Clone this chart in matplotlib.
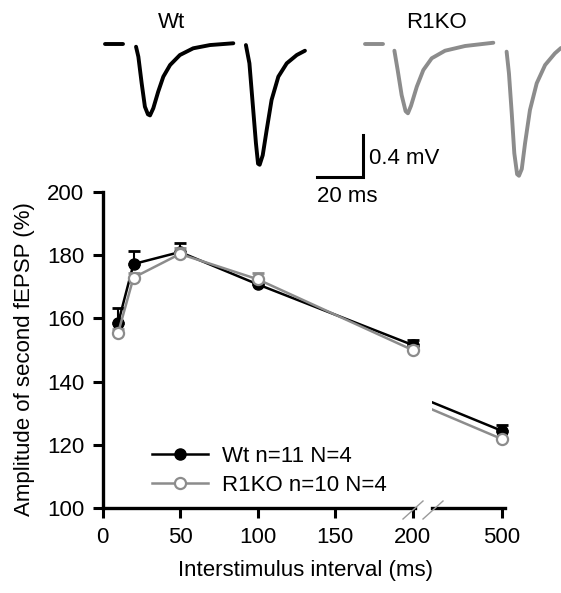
import numpy as np
import matplotlib
matplotlib.use("Agg")
import matplotlib.pyplot as plt
from matplotlib.lines import Line2D

plt.rcParams['font.family'] = ['Liberation Sans', 'DejaVu Sans']

# ---------------- data ----------------
intervals = [10, 20, 50, 100, 200, 500]          # ms
wt_mean = [158.4, 177.2, 181.0, 170.8, 151.6, 124.4]
wt_err = [4.8, 4.1, 3.0, 1.5, 1.5, 2.0]
ko_mean = [155.3, 172.9, 180.4, 172.4, 150.0, 121.8]
ko_err = [1.5, 1.5, 2.0, 2.1, 1.2, 1.2]

xticks_left = [0, 50, 100, 150, 200]
xticks_right = [500]
yticks = [100, 120, 140, 160, 180, 200]

wt_label = "Wt n=11 N=4"
ko_label = "R1KO n=10 N=4"

# example traces (time in ms, voltage in mV), each split in segments
wt_trace = [
    ([0.0, 7.7], [0.0, 0.0]),
    ([13.3, 14.3, 15.7, 17.1, 18.4, 19.3, 20.7, 22.8, 25.0, 27.9, 32.1, 37.8, 45.0, 55.0],
     [-0.026, -0.121, -0.371, -0.597, -0.670, -0.680, -0.612, -0.454, -0.311, -0.200, -0.105, -0.041, -0.010, 0.007]),
    ([60.4, 61.9, 63.3, 64.7, 65.6, 66.3, 67.6, 69.3, 71.4, 74.3, 77.9, 82.2, 85.7],
     [-0.010, -0.184, -0.565, -0.946, -1.140, -1.150, -1.060, -0.819, -0.533, -0.311, -0.184, -0.105, -0.064]),
]
ko_trace = [
    ([0.0, 7.7], [0.0, 0.0]),
    ([12.6, 14.0, 15.7, 17.4, 18.4, 19.7, 22.2, 25.0, 28.6, 34.3, 42.9, 55.0],
     [-0.064, -0.248, -0.486, -0.640, -0.660, -0.590, -0.407, -0.248, -0.136, -0.064, -0.019, 0.012]),
    ([60.7, 61.7, 62.9, 64.0, 65.2, 66.0, 67.2, 68.6, 70.7, 73.6, 77.2, 81.4, 84.0],
     [-0.073, -0.279, -0.660, -1.041, -1.240, -1.255, -1.190, -0.946, -0.629, -0.374, -0.200, -0.089, -0.038]),
]
scale_ms = 20
scale_mv = 0.4

# ---------------- figure ----------------
W, H = 561, 593
fig = plt.figure(figsize=(W / 100, H / 100), dpi=100)

BLACK = '#000000'
GRAY = '#8c8c8c'
FS = 16

def fx(px):
    return px / W

def fy(py):
    return 1 - py / H

# main axes geometry (pixels)
x0_px, px_per_ms = 102.5, 1.55
y_top, y_bot = 192, 508
left_xlim = (0, 206)
ax1 = fig.add_axes([fx(x0_px), fy(y_bot), (left_xlim[1] - left_xlim[0]) * px_per_ms / W,
                    (y_bot - y_top) / H])
r_px0, r_scale = 432, 0.70
right_xlim = (400, 512)
ax2 = fig.add_axes([fx(r_px0), fy(y_bot), (right_xlim[1] - right_xlim[0]) * r_scale / W,
                    (y_bot - y_top) / H])

x = np.array(intervals)
wm, we = np.array(wt_mean), np.array(wt_err)
km, ke = np.array(ko_mean), np.array(ko_err)
mask = x <= 200

def draw(ax, sel):
    ax.errorbar(x[sel], wm[sel], yerr=[np.zeros(sel.sum()), we[sel]], fmt='none',
                ecolor=BLACK, elinewidth=1.5, capsize=4.5, capthick=2, zorder=2)
    ax.plot(x[sel], wm[sel], color=BLACK, lw=1.8, marker='o', ms=8,
            mfc=BLACK, mec=BLACK, zorder=3)
    ax.errorbar(x[sel], km[sel], yerr=[np.zeros(sel.sum()), ke[sel]], fmt='none',
                ecolor=GRAY, elinewidth=1.5, capsize=4.5, capthick=2, zorder=4)
    ax.plot(x[sel], km[sel], color=GRAY, lw=1.8, marker='o', ms=8,
            mfc='white', mec=GRAY, mew=1.6, zorder=5)

draw(ax1, mask)
# right part: lines from 200 to 500, clipped at the axis start
ax2.plot(x, wm, color=BLACK, lw=1.8, zorder=3)
ax2.plot(x, km, color=GRAY, lw=1.8, zorder=5)
sel = x >= 400
ax2.errorbar(x[sel], wm[sel], yerr=[np.zeros(sel.sum()), we[sel]], fmt='none',
             ecolor=BLACK, elinewidth=1.5, capsize=4.5, capthick=2, zorder=2)
ax2.plot(x[sel], wm[sel], ls='none', marker='o', ms=8, mfc=BLACK, mec=BLACK, zorder=3)
ax2.plot(x[sel], km[sel], ls='none', marker='o', ms=8, mfc='white', mec=GRAY,
         mew=1.6, zorder=5)

for ax in (ax1, ax2):
    ax.set_ylim(100, 200)
    ax.spines['top'].set_visible(False)
    ax.spines['right'].set_visible(False)
    ax.patch.set_visible(False)
    ax.tick_params(axis='both', direction='out', length=7, width=2.2,
                   labelsize=FS, color=BLACK)
    ax.tick_params(axis='x', pad=7)
    ax.tick_params(axis='y', pad=6)
    for s in ('left', 'bottom'):
        ax.spines[s].set_linewidth(2.4)

ax1.set_xlim(*left_xlim)
ax1.set_xticks(xticks_left)
ax1.set_yticks(yticks)
ax1.spines['bottom'].set_bounds(0, 201.5)
ax1.spines['left'].set_bounds(100, 200)

ax2.set_xlim(*right_xlim)
ax2.set_xticks(xticks_right)
ax2.spines['left'].set_visible(False)
ax2.set_yticks([])
ax2.spines['bottom'].set_bounds(400, 504)

ax1_wpx = ax1.get_position().width * W
ax1.set_ylabel("Amplitude of second fEPSP (%)", fontsize=FS)
ax1.yaxis.set_label_coords((35 - x0_px) / ax1_wpx, 0.47)
ax1.set_xlabel("Interstimulus interval (ms)", fontsize=FS)
ax1.xaxis.set_label_coords((305.5 - x0_px) / ax1_wpx, -0.165)

# axis-break slashes (figure pixel positions)
for (xa, xb) in [(403, 423), (423, 443)]:
    fig.add_artist(Line2D([fx(xa), fx(xb)], [fy(519), fy(501)], color='#9a9a9a', lw=1.0))

# legend
handles = [Line2D([], [], color=BLACK, lw=1.8, marker='o', ms=8, mfc=BLACK, mec=BLACK),
           Line2D([], [], color=GRAY, lw=1.8, marker='o', ms=8, mfc='white', mec=GRAY, mew=1.6)]
ax1.legend(handles, [wt_label, ko_label], loc='center left',
           bbox_to_anchor=((152 - x0_px) / ax1_wpx, (y_bot - 471) / (y_bot - y_top)),
           frameon=False, fontsize=FS, handlelength=2.5, handletextpad=0.65,
           labelspacing=0.35, borderpad=0, borderaxespad=0)

# ---------------- traces ----------------
axt = fig.add_axes([0, fy(200), 1, 200 / H])
axt.axis('off')
px_ms, px_mv = 2.333, 105.0
t0_px, v0_py = 105, 44
axt.set_xlim(-t0_px / px_ms, (W - t0_px) / px_ms)
axt.set_ylim(-(200 - v0_py) / px_mv, v0_py / px_mv)
ko_offset = 260 / px_ms
for t, v in wt_trace:
    axt.plot(t, v, color=BLACK, lw=2.8, solid_capstyle='round', solid_joinstyle='round')
for t, v in ko_trace:
    axt.plot(np.array(t) + ko_offset, v, color=GRAY, lw=2.8, solid_capstyle='round',
             solid_joinstyle='round')
sb_x = (363.3 - t0_px) / px_ms
sb_y = -(176.7 - v0_py) / px_mv
axt.plot([sb_x - scale_ms, sb_x, sb_x], [sb_y, sb_y, sb_y + scale_mv], color=BLACK, lw=2.2,
         solid_joinstyle='miter')

fig.text(fx(369), fy(158), f"{scale_mv} mV", fontsize=FS, ha='left', va='center')
fig.text(fx(317), fy(196), f"{scale_ms} ms", fontsize=FS, ha='left', va='center')
fig.text(fx(172), fy(23), "Wt", fontsize=FS, ha='center', va='center')
fig.text(fx(437), fy(23), "R1KO", fontsize=FS, ha='center', va='center')

fig.savefig("out.png", dpi=100)
